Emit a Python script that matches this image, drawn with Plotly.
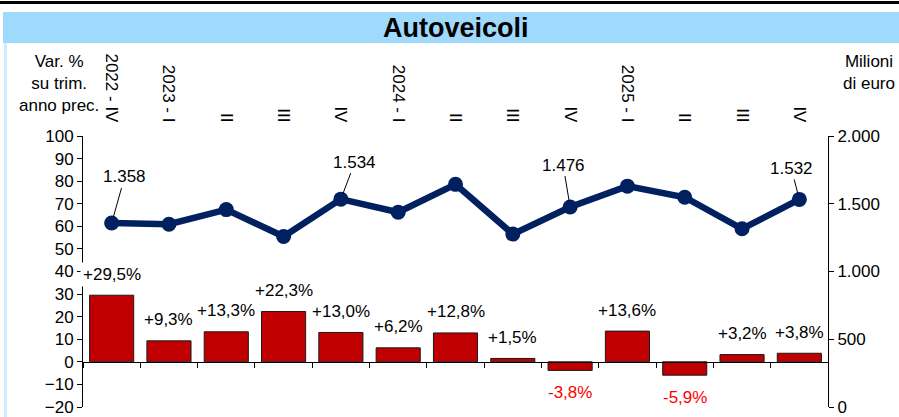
import plotly.graph_objects as go

# ---- data ----
quarters = ["2022 Q4", "2023 Q1", "2023 Q2", "2023 Q3", "2023 Q4",
            "2024 Q1", "2024 Q2", "2024 Q3", "2024 Q4",
            "2025 Q1", "2025 Q2", "2025 Q3", "2025 Q4"]
tick_labels = ["2022 - IV", "2023 - I", "II", "III", "IV",
               "2024 - I", "II", "III", "IV",
               "2025 - I", "II", "III", "IV"]
var_pct = [29.5, 9.3, 13.3, 22.3, 13.0, 6.2, 12.8, 1.5, -3.8, 13.6, -5.9, 3.2, 3.8]
milioni = [1358, 1349, 1457, 1258, 1534, 1437, 1643, 1276, 1476, 1630, 1548, 1315, 1532]
labelled_points = {0: (13, -46), 4: (14, -37), 8: (-7, -42), 12: (-8, -31)}

FONT = "Liberation Sans, Arial, sans-serif"
FS = 17

# geometry (pixels)
W, H = 899, 417
L, R, T, B = 83, 71, 136, 10
PW, PH = W - L - R, H - T - B


def px(xp):
    return (xp - L) / PW


def py(yp):
    return (H - B - yp) / PH


Y0, Y1 = -20, 100

fig = go.Figure()

fig.add_trace(go.Bar(
    x=quarters, y=var_pct, xaxis="x", yaxis="y",
    marker=dict(color="#c00000", line=dict(color="#1a1a1a", width=1)),
    showlegend=False, hoverinfo="skip",
))

fig.add_trace(go.Scatter(
    x=quarters, y=milioni, xaxis="x2", yaxis="y2",
    mode="lines+markers",
    line=dict(color="#002060", width=6.5),
    marker=dict(color="#002060", size=15),
    showlegend=False, hoverinfo="skip",
))

annotations = []
# bar value labels
for q, v in zip(quarters, var_pct):
    txt = f"{v:+.1f}%".replace(".", ",")
    annotations.append(dict(
        x=q, y=v, xref="x", yref="y", text=txt, showarrow=False,
        yanchor="middle", yshift=21 if v >= 0 else -22,
        font=dict(family=FONT, size=FS, color="black" if v >= 0 else "#ff0000"),
        bgcolor="white", borderpad=2,
    ))

# line value labels with leader lines
for i, (ax, ay) in labelled_points.items():
    txt = f"{milioni[i]:,}".replace(",", ".")
    annotations.append(dict(
        x=quarters[i], y=milioni[i], xref="x2", yref="y2", text=txt,
        showarrow=True, arrowhead=0, arrowwidth=1, arrowcolor="black",
        ax=ax, ay=ay, standoff=6,
        font=dict(family=FONT, size=FS, color="black"),
    ))

# axis titles and chart title
annotations.append(dict(
    xref="paper", yref="paper", x=px(58.5), y=py(50), xanchor="center", yanchor="top",
    text="Var. %<br>su trim.<br>anno prec.", align="center", showarrow=False,
    font=dict(family=FONT, size=FS, color="black"),
))
annotations.append(dict(
    xref="paper", yref="paper", x=px(868.5), y=py(50), xanchor="center", yanchor="top",
    text="Milioni<br>di euro", align="center", showarrow=False,
    font=dict(family=FONT, size=FS, color="black"),
))
annotations.append(dict(
    xref="paper", yref="paper", x=px(456), y=py(28), xanchor="center", yanchor="middle",
    text="<b>Autoveicoli</b>", showarrow=False,
    font=dict(family=FONT, size=27, color="black"),
))

shapes = [
    # title band
    dict(type="rect", xref="paper", yref="paper", x0=px(3), x1=px(W + 2), y0=py(43), y1=py(12),
         fillcolor="#9fd9fc", line=dict(width=0), layer="below"),
    # left light border
    dict(type="rect", xref="paper", yref="paper", x0=px(4), x1=px(7), y0=py(H + 2), y1=py(43),
         fillcolor="#d3ecfc", line=dict(width=0), layer="below"),
    # top black rule
    dict(type="line", xref="paper", yref="paper", x0=px(-2), x1=px(W + 2), y0=py(2.5), y1=py(2.5),
         line=dict(color="black", width=3)),
]

zero_pos = (0 - Y0) / (Y1 - Y0)

fig.update_layout(
    width=W, height=H,
    margin=dict(l=L, r=R, t=T, b=B, pad=0, autoexpand=False),
    paper_bgcolor="white", plot_bgcolor="white",
    separators=",.",
    bargap=0.23,
    font=dict(family=FONT, size=FS, color="black"),
    annotations=annotations, shapes=shapes,
    xaxis=dict(
        type="category", categoryorder="array", categoryarray=quarters,
        range=[-0.5, len(quarters) - 0.5],
        anchor="free", position=zero_pos, automargin=False,
        showline=True, linecolor="black", linewidth=1,
        ticks="outside", tickson="boundaries", ticklen=5, tickcolor="black",
        showticklabels=False, showgrid=False, zeroline=False,
    ),
    xaxis2=dict(
        type="category", categoryorder="array", categoryarray=quarters,
        range=[-0.5, len(quarters) - 0.5],
        overlaying="x", side="top", anchor="y", automargin=False,
        tickmode="array", tickvals=quarters, ticktext=tick_labels,
        tickangle=90, ticks="", showline=False, showgrid=False, zeroline=False,
        ticklabelstandoff=10,
        tickfont=dict(family=FONT, size=FS, color="black"),
    ),
    yaxis=dict(
        range=[Y0, Y1], dtick=10, tick0=0, anchor="x", automargin=False,
        showline=True, linecolor="black", linewidth=1,
        ticks="outside", ticklen=5, tickcolor="black",
        showgrid=False, zeroline=False,
        tickfont=dict(family=FONT, size=FS, color="black"),
    ),
    yaxis2=dict(
        range=[0, 2000], dtick=500, tick0=0, overlaying="y", side="right", anchor="x",
        automargin=False,
        showline=True, linecolor="black", linewidth=1,
        ticks="outside", ticklen=5, tickcolor="black",
        showgrid=False, zeroline=False, separatethousands=True,
        tickfont=dict(family=FONT, size=FS, color="black"),
    ),
)

fig.write_html(
    "out.html",
    config={"displayModeBar": False},
    post_script="document.body.style.margin='0';document.body.style.overflow='hidden';",
)
